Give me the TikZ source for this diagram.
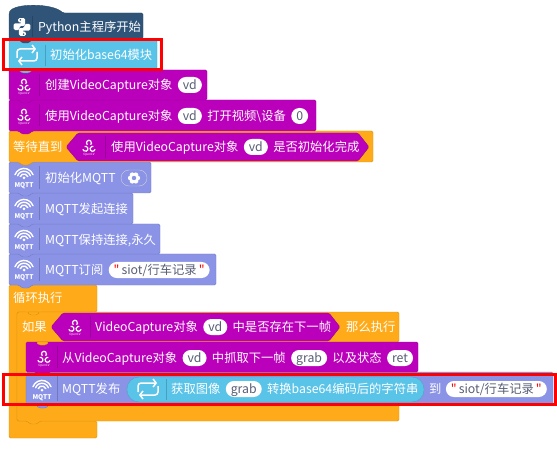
\documentclass[tikz,border=0pt]{standalone}
\usepackage{fontspec}
\usetikzlibrary{positioning, calc, arrows.meta}
\newfontfamily\blockfont{Noto Sans CJK SC}
\definecolor{pyblue}{RGB}{48,84,120}
\definecolor{loopblue}{RGB}{90,195,232}
\definecolor{cvpurple}{RGB}{187,0,187}
\definecolor{ctrlorange}{RGB}{255,171,25}
\definecolor{mqttblue}{RGB}{138,147,230}
\definecolor{pillgray}{RGB}{87,94,117}
\newcommand{\blockpath}[4]{(#1,#2) -- (#3,#2) -- (#3,#4) -- ({#1+23},#4) -- ({#1+20},{#4+3}) -- ({#1+13},{#4+3}) -- ({#1+10},#4) -- (#1,#4) -- cycle}
\newcommand{\bumppath}[2]{({#1+23},#2) -- ({#1+20},{#2+3}) -- ({#1+13},{#2+3}) -- ({#1+10},#2) -- cycle}
\tikzset{
    ocvicon/.pic={
        \foreach \cx/\cy/\a in {0/-3.2/90,-3.6/2.8/210,3.6/2.8/-30} {
            \draw[white, line width=1.2pt] (\cx,\cy) ++({\a+40}:2.5) arc[start angle={\a+40}, delta angle=280, radius=2.5];
        }
        \node[white, inner sep=0pt, font=\blockfont\fontsize{3}{3}\selectfont] at (0,9) {OpenCV};
    },
    wifiicon/.pic={
        \fill[white] (0,0) circle (1.5);
        \foreach \r in {4,6.8,9.6} {
            \draw[white, line width=1.4pt, line cap=round] ({-0.94*\r},{-0.342*\r}) arc[start angle=200, end angle=340, radius=\r];
        }
        \node[white, inner sep=0pt, font=\blockfont\bfseries\fontsize{6.5}{7}\selectfont] at (0,8) {MQTT};
    },
    loopicon/.pic={
        \draw[white, line width=1.5pt, rounded corners=3pt, -{Straight Barb[length=3pt,width=8pt]}] (-10,3) -- (-10,-6) -- (9,-6);
        \draw[white, line width=1.5pt, rounded corners=3pt, -{Straight Barb[length=3pt,width=8pt]}] (10,-3) -- (10,6) -- (-9,6);
    },
    pyicon/.pic={
        \foreach \a in {0,180} {
            \begin{scope}[rotate=\a, shift={(-0.4,-0.4)}]
                \fill[white, rounded corners=1.5pt] (-3.5,-8.5) -- (3.5,-8.5) -- (3.5,-0.7) -- (-2,-0.7) -- (-2,3.5) -- (-8,3.5) -- (-8,-3.2) -- (0.5,-3.2) -- (0.5,-4.2) -- (-3.5,-4.2) -- cycle;
                \fill[pyblue] (-1.2,-6.7) circle (0.9);
            \end{scope}
        }
    },
    gearicon/.pic={
        \foreach \a in {0,60,...,300} {
            \fill[white] (\a:3.6) circle (2.5);
        }
        \fill[white] (0,0) circle (3.5);
        \fill[mqttblue] (0,0) circle (2.2);
    },
}
\begin{document}
\begin{tikzpicture}[
        x=1pt, y=-1pt,
        node distance=5pt,
        blk/.style={draw=#1!85!black, fill=#1, line width=0.4pt, rounded corners=1.5pt},
        lbl/.style={inner sep=0pt, text=white, anchor=west, font=\blockfont\fontsize{12.3}{14}\selectfont,
                    text height=10.3pt, text depth=1.7pt},
        pill/.style={fill=white, text=pillgray, inner xsep=5pt, inner ysep=2pt, rounded corners=8pt,
                     font=\blockfont\fontsize{12.3}{14}\selectfont, text height=10.3pt, text depth=1.7pt},
        sepline/.style={line width=0.4pt, draw=black, opacity=0.18},
        redbox/.style={draw=red, line width=3pt},
    ]
    \useasboundingbox (0,0) rectangle (557,449);

    % ---- Outer loop and if frames ----
    \path[blk=ctrlorange] (9,285) -- (97,285) -- (97,312) -- (40,312) -- (37,315) -- (30,315) -- (27,312) -- (17,312)
        -- (17,421) -- (97,421) -- (97,438) -- (9,438) -- cycle;
    \path[blk=ctrlorange] (17,312) -- (399,312) -- (399,342) -- (26,342) -- (26,405) -- (399,405) -- (399,421)
        -- (40,421) -- (37,424) -- (30,424) -- (27,421) -- (17,421) -- cycle;
    \path[blk=ctrlorange] \bumppath{17}{312};

    % ---- Stacked blocks, drawn from the bottom up ----
    \foreach \c/\xa/\ya/\xb/\yb in {
        mqttblue/26/372/553/405,
        cvpurple/26/342/418/372} {
        \path[blk=\c] \blockpath{\xa}{\ya}{\xb}{\yb};
    }
    \path[blk=ctrlorange] \bumppath{26}{342};
    \foreach \c/\xa/\ya/\xb/\yb in {
        mqttblue/9/254/216/285,
        mqttblue/9/224/160/254,
        mqttblue/9/193/133/224,
        mqttblue/9/162/151/193,
        ctrlorange/9/131/373/162,
        cvpurple/9/100/316/131,
        cvpurple/9/70/207/100,
        loopblue/9/40/157/70} {
        \path[blk=\c] \blockpath{\xa}{\ya}{\xb}{\yb};
    }

    % ---- Hat block ----
    \path[blk=pyblue] (9,13) .. controls (14,3) and (52,3) .. (63,13) -- (143,13) -- (143,39) -- (32,39) -- (29,43)
        -- (22,43) -- (19,39) -- (9,39) -- cycle;

    % ---- Hexagons and inner pill ----
    \path[blk=cvpurple] (78,133) -- (358,133) -- (369,147) -- (358,161) -- (78,161) -- (66,147) -- cycle;
    \path[blk=cvpurple] (63,313) -- (329,313) -- (340,327) -- (329,341) -- (63,341) -- (51,327) -- cycle;
    \path[blk=loopblue, rounded corners=12pt] (127,377) -- (424,377) -- (424,402) -- (127,402) -- cycle;

    % ---- Separators ----
    \foreach \x/\ya/\yb in {32/16/37, 45/45/66, 39/74/96, 39/104/126, 105/136/158, 39/166/189, 39/197/220, 39/228/250,
                            39/258/281, 90/316/338, 57/346/368, 57/376/401, 166/379/400} {
        \draw[sepline] (\x,\ya) -- (\x,\yb);
    }

    % ---- Icons ----
    \pic at (22,27) {pyicon};
    \pic at (27,55) {loopicon};
    \pic at (24,85) {ocvicon};
    \pic at (24,115) {ocvicon};
    \pic at (89,146) {ocvicon};
    \foreach \y in {178,209,240,270} {
        \pic at (24,\y) {wifiicon};
    }
    \pic at (75,326) {ocvicon};
    \pic at (44,357) {ocvicon};
    \pic at (42,390) {wifiicon};
    \pic at (148,389) {loopicon};

    % ---- Labels, row by row ----
    \node[lbl] (PY) at (38,27) {Python主程序开始};
    \node[lbl] (B64) at (50,55) {初始化base64模块};

    \node[lbl] (VC1) at (45,85) {创建VideoCapture对象};
    \node[pill, right=5pt of VC1] (VD1) {vd};

    \node[lbl] (VC2) at (45,116) {使用VideoCapture对象};
    \node[pill, right=5pt of VC2] (VD2) {vd};
    \node[lbl, right=5pt of VD2] (VC2B) {打开视频\textbackslash 设备};
    \node[pill, right=5pt of VC2B] (DEV) {0};

    \node[lbl] (WAIT) at (13,147) {等待直到};
    \node[lbl] (VC3) at (111,147) {使用VideoCapture对象};
    \node[pill, right=5pt of VC3] (VD3) {vd};
    \node[lbl, right=5pt of VD3] (VC3B) {是否初始化完成};

    \node[lbl] (M1) at (45,178) {初始化MQTT};
    \node[pill, right=5pt of M1, fill=mqttblue, draw=black!18, minimum width=26pt, inner xsep=0pt] (GEAR) {};
    \pic at (GEAR.center) {gearicon};
    \node[lbl] (M2) at (45,209) {MQTT发起连接};
    \node[lbl] (M3) at (45,240) {MQTT保持连接,永久};
    \node[lbl] (M4) at (45,270) {MQTT订阅};
    \node[pill, right=5pt of M4] (TOPIC1) {\textcolor{red}{"}\,siot/行车记录\,\textcolor{red}{"}};

    \node[lbl] (LOOP) at (13,298) {循环执行};
    \node[lbl] (IF) at (22,327) {如果};
    \node[lbl] (VC4) at (95,327) {VideoCapture对象};
    \node[pill, right=5pt of VC4] (VD4) {vd};
    \node[lbl, right=5pt of VD4] (VC4B) {中是否存在下一帧};
    \node[lbl] (THEN) at (346,327) {那么执行};

    \node[lbl] (VC5) at (62,358) {从VideoCapture对象};
    \node[pill, right=5pt of VC5] (VD5) {vd};
    \node[lbl, right=5pt of VD5] (VC5B) {中抓取下一帧};
    \node[pill, right=5pt of VC5B] (GRAB1) {grab};
    \node[lbl, right=5pt of GRAB1] (VC5C) {以及状态};
    \node[pill, right=5pt of VC5C] (RET) {ret};

    \node[lbl] (PUB) at (62,389) {MQTT发布};
    \node[lbl] (IMG) at (171,389) {获取图像};
    \node[pill, right=5pt of IMG] (GRAB2) {grab};
    \node[lbl, right=5pt of GRAB2] (ENC) {转换base64编码后的字符串};
    \node[lbl] (TO) at (429,389) {到};
    \node[pill, right=4pt of TO] (TOPIC2) {\textcolor{red}{"}\,siot/行车记录\,\textcolor{red}{"}};

    % ---- Red highlights ----
    \draw[redbox] (3.2,39.5) rectangle (161.5,69.5);
    \draw[redbox] (3.2,374.5) rectangle (555,404);
\end{tikzpicture}
\end{document}
